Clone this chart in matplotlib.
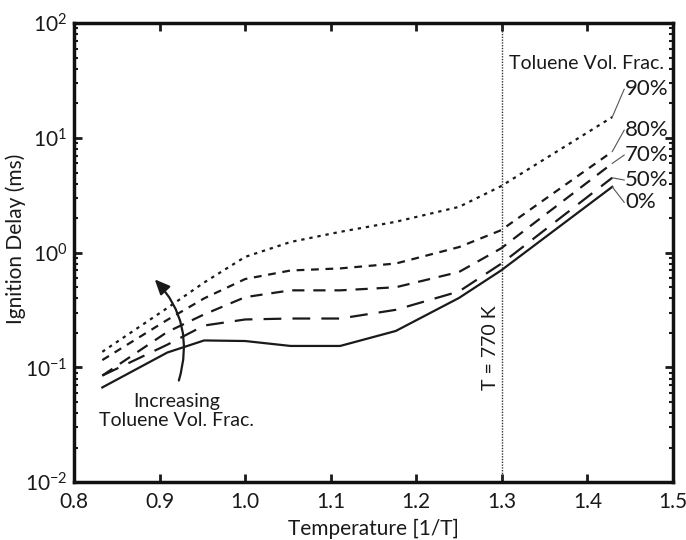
import numpy as np
import matplotlib
matplotlib.use("Agg")
import matplotlib.pyplot as plt
from matplotlib.patches import FancyArrowPatch
from matplotlib.ticker import LogLocator, FixedLocator

plt.rcParams['font.family'] = ['Lato', 'DejaVu Sans']
plt.rcParams['mathtext.fontset'] = 'custom'
plt.rcParams['mathtext.rm'] = 'Lato'
plt.rcParams['mathtext.it'] = 'Lato'

# inverse temperature points (1000/T)
inv_t = [0.833, 0.909, 0.952, 1.0, 1.053, 1.111, 1.176, 1.25, 1.299, 1.429]

# ignition delay (ms) per toluene volume fraction
tol_0 = [0.067, 0.135, 0.172, 0.170, 0.154, 0.154, 0.208, 0.404, 0.70, 3.75]
tol_50 = [0.085, 0.158, 0.232, 0.262, 0.267, 0.267, 0.318, 0.46, 0.80, 4.5]
tol_70 = [0.085, 0.204, 0.29, 0.41, 0.47, 0.47, 0.50, 0.68, 1.09, 6.0]
tol_80 = [0.116, 0.26, 0.40, 0.59, 0.70, 0.73, 0.805, 1.12, 1.57, 7.6]
tol_90 = [0.137, 0.33, 0.55, 0.92, 1.24, 1.52, 1.86, 2.51, 3.8, 15.2]

labels = ['0%', '50%', '70%', '80%', '90%']
label_y = [2.75, 4.3, 7.1, 11.7, 26.6]
series = [tol_0, tol_50, tol_70, tol_80, tol_90]
styles = ['-', (0, (8, 5)), (0, (5.5, 4)), (0, (3.5, 3)), (0, (1.5, 2.2))]

fig = plt.figure(figsize=(6.86, 5.40), dpi=100)
ax = fig.add_axes([0.108, 0.107, 0.873, 0.850])

for vals, ls, lab, ly in zip(series, styles, labels, label_y):
    ax.plot(inv_t, vals, color='#1a1a1a', lw=1.6, linestyle=ls)
    # leader line to label
    ax.plot([inv_t[-1], 1.443], [vals[-1], ly], color='#555555', lw=0.8)
    ax.text(1.444, ly, lab, fontsize=16, va='center', ha='left', color='#1a1a1a')

ax.text(1.489, 45, 'Toluene Vol. Frac.', fontsize=14, ha='right', va='center', color='#1a1a1a')

# reference temperature line
ax.axvline(1.3, color='#333333', lw=1.0, linestyle=(0, (1, 1)))
ax.text(1.287, 0.15, 'T = 770 K', rotation=90, fontsize=14, ha='center', va='center',
        color='#1a1a1a')

# arrow annotation
arr = FancyArrowPatch((0.9215, 0.073), (0.892, 0.61), connectionstyle='arc3,rad=0.3',
                      arrowstyle='-|>,head_length=9,head_width=4', color='#1a1a1a',
                      lw=1.6, mutation_scale=1)
ax.add_patch(arr)
ax.text(0.92, 0.0415, 'Increasing\nToluene Vol. Frac.', fontsize=14, ha='center', va='center',
        linespacing=1.15, color='#1a1a1a')

ax.set_yscale('log')
ax.set_xlim(0.8, 1.5)
ax.set_ylim(0.01, 100)
ax.xaxis.set_major_locator(FixedLocator([0.8, 0.9, 1.0, 1.1, 1.2, 1.3, 1.4, 1.5]))
ax.set_xticklabels(['0.8', '0.9', '1.0', '1.1', '1.2', '1.3', '1.4', '1.5'])
ax.yaxis.set_major_locator(LogLocator(base=10, numticks=10))
ax.yaxis.set_minor_locator(LogLocator(base=10, subs=np.arange(2, 10), numticks=10))

ax.tick_params(which='both', direction='in', top=True, right=True, labelsize=15,
               colors='#1a1a1a', width=2)
ax.tick_params(which='major', length=6, pad=7)
ax.tick_params(axis='y', which='major', pad=5)
ax.tick_params(which='minor', length=3, width=1.5)
for sp in ax.spines.values():
    sp.set_linewidth(2.5)
    sp.set_color('#111111')

ax.set_xlabel('Temperature [1/T]', fontsize=15, color='#1a1a1a', labelpad=5)
ax.set_ylabel('Ignition Delay (ms)', fontsize=15, color='#1a1a1a')
ax.yaxis.set_label_coords(-0.08, 0.53)

fig.savefig('out.png', dpi=100)
